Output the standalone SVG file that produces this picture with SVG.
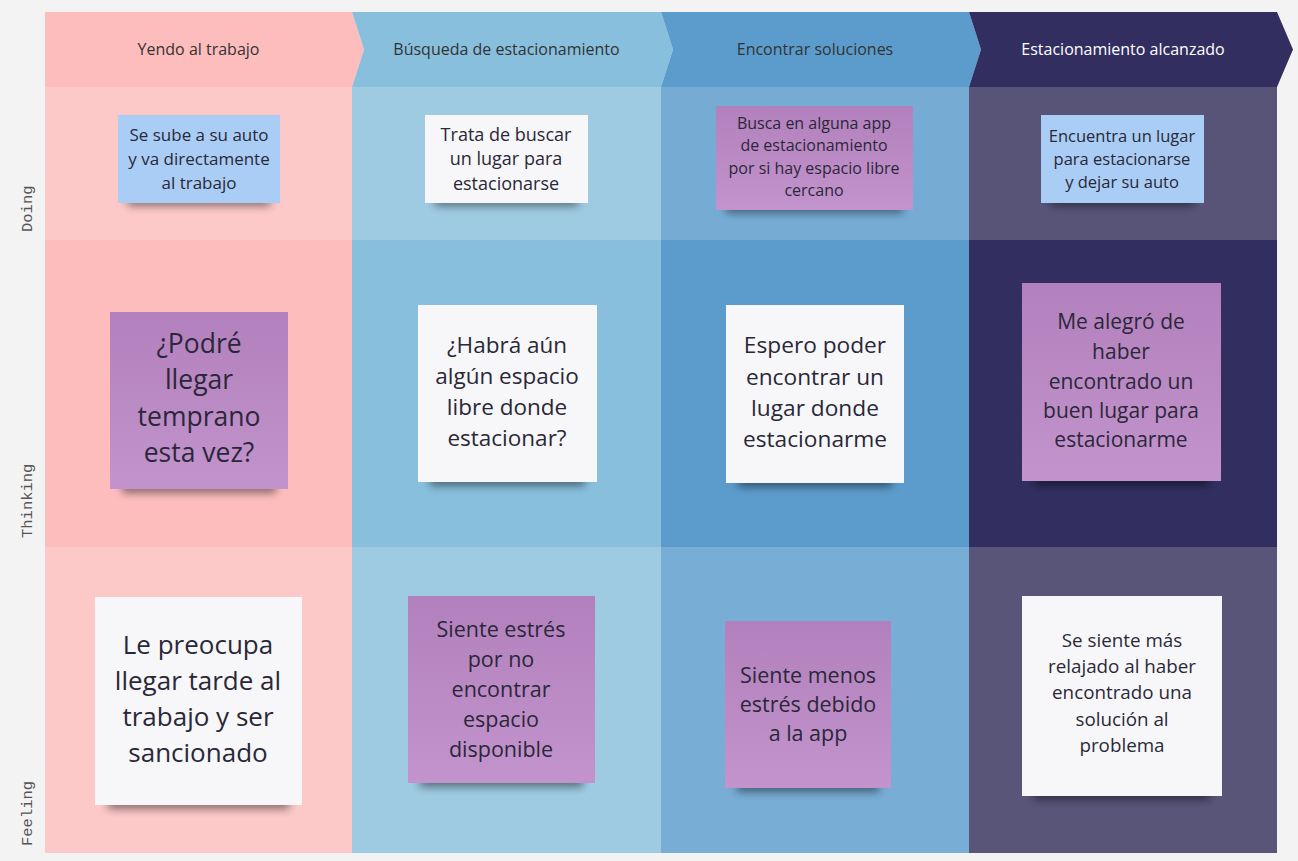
<svg xmlns="http://www.w3.org/2000/svg" width="1298" height="861" viewBox="0 0 1298 861">
<style>
.hd{font-family:"Open Sans","Noto Sans",sans-serif;font-size:16px;fill:#333;text-anchor:middle}
.hdw{fill:#fff}
.rl{font-family:"Liberation Mono",monospace;font-size:15.5px;fill:#555;text-anchor:start}
.nt{font-family:"Open Sans","Noto Sans",sans-serif;fill:#2a2838;text-anchor:middle;dominant-baseline:central}
.sh{fill:#000;opacity:.45;filter:url(#blur)}
.blue{fill:#a9cdf4}
.white{fill:#f7f7f9}
.purple{fill:url(#pg)}
</style>
<defs>
<filter id="blur" x="-20%" y="-100%" width="140%" height="300%"><feGaussianBlur stdDeviation="4"/></filter>
<linearGradient id="pg" x1="0" y1="0" x2="0" y2="1"><stop offset="0" stop-color="#b281bd"/><stop offset="1" stop-color="#c393cd"/></linearGradient>
</defs>
<rect width="1298" height="861" fill="#f3f3f3"/>
<g id="grid">
<rect x="45" y="87" width="307" height="153" fill="#fcc8c8"/>
<rect x="352" y="87" width="309" height="153" fill="#9ecae2"/>
<rect x="661" y="87" width="308" height="153" fill="#76acd4"/>
<rect x="969" y="87" width="308" height="153" fill="#575478"/>
<rect x="45" y="240" width="307" height="307" fill="#fdbdbd"/>
<rect x="352" y="240" width="309" height="307" fill="#88bfdd"/>
<rect x="661" y="240" width="308" height="307" fill="#5c9ccc"/>
<rect x="969" y="240" width="308" height="307" fill="#322e5f"/>
<rect x="45" y="547" width="307" height="306" fill="#fcc8c8"/>
<rect x="352" y="547" width="309" height="306" fill="#9ecae2"/>
<rect x="661" y="547" width="308" height="306" fill="#78aed5"/>
<rect x="969" y="547" width="308" height="306" fill="#585579"/>
</g>
<g id="stage1"><path d="M45,12H352L364,49.5L352,87H45Z" fill="#fdbdbd"/><text class="hd" x="198.5" y="55">Yendo al trabajo</text></g>
<g id="stage2"><path d="M352,12H661L673,49.5L661,87H352L364,49.5Z" fill="#88bfdd"/><text class="hd" x="506.5" y="55">Búsqueda de estacionamiento</text></g>
<g id="stage3"><path d="M661,12H969L981,49.5L969,87H661L673,49.5Z" fill="#5c9ccc"/><text class="hd" x="815" y="55">Encontrar soluciones</text></g>
<g id="stage4"><path d="M969,12H1277L1293,49.5L1277,87H969L981,49.5Z" fill="#322e5f"/><text class="hd hdw" x="1123" y="55">Estacionamiento alcanzado</text></g>
<g id="row-labels">
<text class="rl" transform="translate(32,232) rotate(-90)">Doing</text>
<text class="rl" transform="translate(32,538) rotate(-90)">Thinking</text>
<text class="rl" transform="translate(32,846) rotate(-90)">Feeling</text>
</g>
<g id="n1"><rect class="sh" x="128" y="196" width="142" height="10"/><rect class="blue" x="118" y="115" width="162" height="88"/>
<text class="nt" font-size="17" x="199"><tspan x="199" y="134">Se sube a su auto</tspan><tspan x="199" y="158">y va directamente</tspan><tspan x="199" y="182">al trabajo</tspan></text></g>
<g id="n2"><rect class="sh" x="435" y="196" width="143" height="10"/><rect class="white" x="425" y="115" width="163" height="88"/>
<text class="nt" font-size="18" x="506"><tspan x="506" y="134">Trata de buscar</tspan><tspan x="506" y="158">un lugar para</tspan><tspan x="506" y="183">estacionarse</tspan></text></g>
<g id="n3"><rect class="sh" x="726" y="203" width="177" height="10"/><rect class="purple" x="716" y="106" width="197" height="104"/>
<text class="nt" font-size="16" x="814"><tspan x="814" y="123">Busca en alguna app</tspan><tspan x="814" y="145">de estacionamiento</tspan><tspan x="814" y="168">por si hay espacio libre</tspan><tspan x="814" y="190">cercano</tspan></text></g>
<g id="n4"><rect class="sh" x="1051" y="196" width="143" height="10"/><rect class="blue" x="1041" y="115" width="163" height="88"/>
<text class="nt" font-size="16.5" x="1122"><tspan x="1122" y="135">Encuentra un lugar</tspan><tspan x="1122" y="158">para estacionarse</tspan><tspan x="1122" y="181">y dejar su auto</tspan></text></g>
<g id="n5"><rect class="sh" x="122" y="481" width="154" height="12"/><rect class="purple" x="110" y="312" width="178" height="177"/>
<text class="nt" font-size="26.5" x="199"><tspan x="199" y="343">¿Podré</tspan><tspan x="199" y="379">llegar</tspan><tspan x="199" y="416">temprano</tspan><tspan x="199" y="452">esta vez?</tspan></text></g>
<g id="n6"><rect class="sh" x="430" y="474" width="155" height="12"/><rect class="white" x="418" y="305" width="179" height="177"/>
<text class="nt" font-size="22.5" x="507"><tspan x="507" y="344">¿Habrá aún</tspan><tspan x="507" y="375">algún espacio</tspan><tspan x="507" y="406">libre donde</tspan><tspan x="507" y="437">estacionar?</tspan></text></g>
<g id="n7"><rect class="sh" x="738" y="475" width="154" height="12"/><rect class="white" x="726" y="305" width="178" height="178"/>
<text class="nt" font-size="22.7" x="815"><tspan x="815" y="344">Espero poder</tspan><tspan x="815" y="376">encontrar un</tspan><tspan x="815" y="407">lugar donde</tspan><tspan x="815" y="438">estacionarme</tspan></text></g>
<g id="n8"><rect class="sh" x="1034" y="473" width="175" height="12"/><rect class="purple" x="1022" y="283" width="199" height="198"/>
<text class="nt" font-size="21" x="1121"><tspan x="1121" y="321">Me alegró de</tspan><tspan x="1121" y="351">haber</tspan><tspan x="1121" y="381">encontrado un</tspan><tspan x="1121" y="410">buen lugar para</tspan><tspan x="1121" y="439">estacionarme</tspan></text></g>
<g id="n9"><rect class="sh" x="108" y="796" width="181" height="13"/><rect class="white" x="95" y="597" width="207" height="208"/>
<text class="nt" font-size="26" x="198"><tspan x="198" y="644">Le preocupa</tspan><tspan x="198" y="680">llegar tarde al</tspan><tspan x="198" y="716">trabajo y ser</tspan><tspan x="198" y="752">sancionado</tspan></text></g>
<g id="n10"><rect class="sh" x="420" y="775" width="163" height="12"/><rect class="purple" x="408" y="596" width="187" height="187"/>
<text class="nt" font-size="21.5" x="501"><tspan x="501" y="628">Siente estrés</tspan><tspan x="501" y="658">por no</tspan><tspan x="501" y="688">encontrar</tspan><tspan x="501" y="718">espacio</tspan><tspan x="501" y="748">disponible</tspan></text></g>
<g id="n11"><rect class="sh" x="737" y="780" width="142" height="12"/><rect class="purple" x="725" y="621" width="166" height="167"/>
<text class="nt" font-size="21.5" x="808"><tspan x="808" y="674">Siente menos</tspan><tspan x="808" y="703">estrés debido</tspan><tspan x="808" y="732">a la app</tspan></text></g>
<g id="n12"><rect class="sh" x="1034" y="788" width="176" height="12"/><rect class="white" x="1022" y="596" width="200" height="200"/>
<text class="nt" font-size="18.8" x="1122"><tspan x="1122" y="640">Se siente más</tspan><tspan x="1122" y="666">relajado al haber</tspan><tspan x="1122" y="692">encontrado una</tspan><tspan x="1122" y="719">solución al</tspan><tspan x="1122" y="745">problema</tspan></text></g>
<g id="connectors"/>
</svg>
